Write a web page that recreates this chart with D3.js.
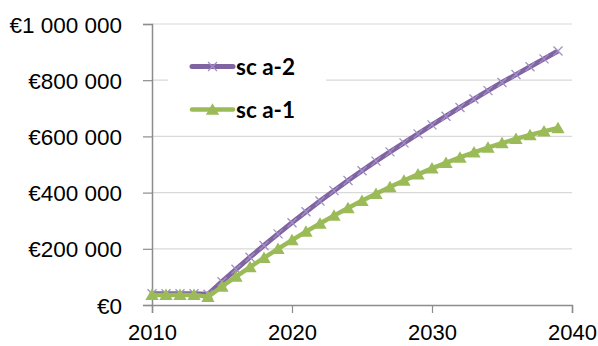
<!DOCTYPE html>
<html><head><meta charset="utf-8">
<script src="https://cdn.jsdelivr.net/npm/d3@7"></script>
<style>
html,body{margin:0;padding:0;background:#fff;}
svg{display:block;font-family:Lato,"Open Sans",sans-serif;}
</style></head>
<body>
<svg id="chart" width="598" height="346"></svg>
<script>
const years = d3.range(2010, 2040);
const seriesA2 = [40000,40000,40000,40000,38000,83000,127000,170000,212000,253000,293000,332000,370000,407000,443000,478000,512000,545000,577000,609000,641000,672000,703000,733000,763000,792000,820000,848000,876000,904000];
const seriesA1 = [36000,36000,36000,36000,29000,66000,101000,135000,168000,200000,231000,261000,290000,318000,345000,371000,396000,420000,443000,465000,486000,506000,525000,543000,560000,576000,591000,605000,618000,630000];
const seriesNames = ["sc a-2","sc a-1"];
const xTicks = [2010,2020,2030,2040];
const yTicks = [0,200000,400000,600000,800000,1000000];

const svg = d3.select("#chart");
const x = d3.scaleLinear().domain([2010,2040]).range([152,572]);
const y = d3.scaleLinear().domain([0,1000000]).range([305,24]);

const loc = d3.formatLocale({decimal:",", thousands:"\u00a0", grouping:[3], currency:["€",""]});
const fmt = loc.format("$,.0f");

// gridlines
svg.append("g").selectAll("line").data(yTicks.filter(d=>d>0)).join("line")
  .attr("x1",x(2010)).attr("x2",x(2040))
  .attr("y1",d=>y(d)).attr("y2",d=>y(d))
  .attr("stroke","#d9d9d9").attr("stroke-width",1.2);

// y axis
const gy = svg.append("g").attr("transform",`translate(${x(2010)},0)`)
  .call(d3.axisLeft(y).tickValues(yTicks).tickFormat(fmt).tickSize(9).tickPadding(21));
gy.selectAll("text").attr("font-size",22.5).attr("fill","#000").attr("dy","0.36em");
gy.selectAll("line").attr("stroke","#8c8c8c").attr("stroke-width",1.2);
gy.select(".domain").attr("stroke","#8c8c8c").attr("stroke-width",1.5);

// x axis
const gx = svg.append("g").attr("transform",`translate(0,${y(0)})`)
  .call(d3.axisBottom(x).tickValues(xTicks).tickFormat(d3.format("d")).tickSize(8).tickPadding(11));
gx.selectAll("text").attr("font-size",22).attr("fill","#000");
gx.selectAll("line").attr("stroke","#8c8c8c").attr("stroke-width",1.2);
gx.select(".domain").attr("stroke","#8c8c8c").attr("stroke-width",1.5);

const line = d3.line().x((d,i)=>x(years[i])).y(d=>y(d));

const purple = "#8064a2", purpleMark = "#a28fc6", green = "#9bbb59";

function crossPath(cx,cy,r){return `M${cx-r},${cy-r}L${cx+r},${cy+r}M${cx-r},${cy+r}L${cx+r},${cy-r}`;}
function triPath(cx,cy,s){return `M${cx},${cy-s*0.55}L${cx+s*0.58},${cy+s*0.45}L${cx-s*0.58},${cy+s*0.45}Z`;}

// series sc a-2
svg.append("path").datum(seriesA2).attr("d",line).attr("fill","none")
  .attr("stroke",purple).attr("stroke-width",5).attr("stroke-linejoin","round");
svg.append("g").selectAll("path").data(seriesA2).join("path")
  .attr("d",(d,i)=>crossPath(x(years[i]),y(d),4.5))
  .attr("stroke",purpleMark).attr("stroke-width",1.3).attr("fill","none");

// series sc a-1
svg.append("path").datum(seriesA1).attr("d",line).attr("fill","none")
  .attr("stroke",green).attr("stroke-width",4.5).attr("stroke-linejoin","round");
svg.append("g").selectAll("path").data(seriesA1).join("path")
  .attr("d",(d,i)=>triPath(x(years[i]),y(d),11.5))
  .attr("fill",green);

// legend
const lg = svg.append("g");
lg.append("rect").attr("x",168).attr("y",40).attr("width",158).attr("height",86).attr("fill","#fff");
const legendRows = [{name:seriesNames[0],c:purple,y:66.5,m:"x"},{name:seriesNames[1],c:green,y:109.5,m:"t"}];
legendRows.forEach(r=>{
  lg.append("line").attr("x1",192).attr("x2",233).attr("y1",r.y).attr("y2",r.y)
    .attr("stroke",r.c).attr("stroke-width",r.m==="x"?5:4.5).attr("stroke-linecap","round");
  if(r.m==="x") lg.append("path").attr("d",crossPath(212.5,r.y,4.5)).attr("stroke",purpleMark).attr("stroke-width",1.3);
  else lg.append("path").attr("d",triPath(212.5,r.y,11.5)).attr("fill",green);
  lg.append("text").attr("x",236).attr("y",r.y).attr("dy","0.36em")
    .attr("font-size",22.5).attr("font-weight","bold").attr("fill","#000").text(r.name);
});
</script>
</body></html>
